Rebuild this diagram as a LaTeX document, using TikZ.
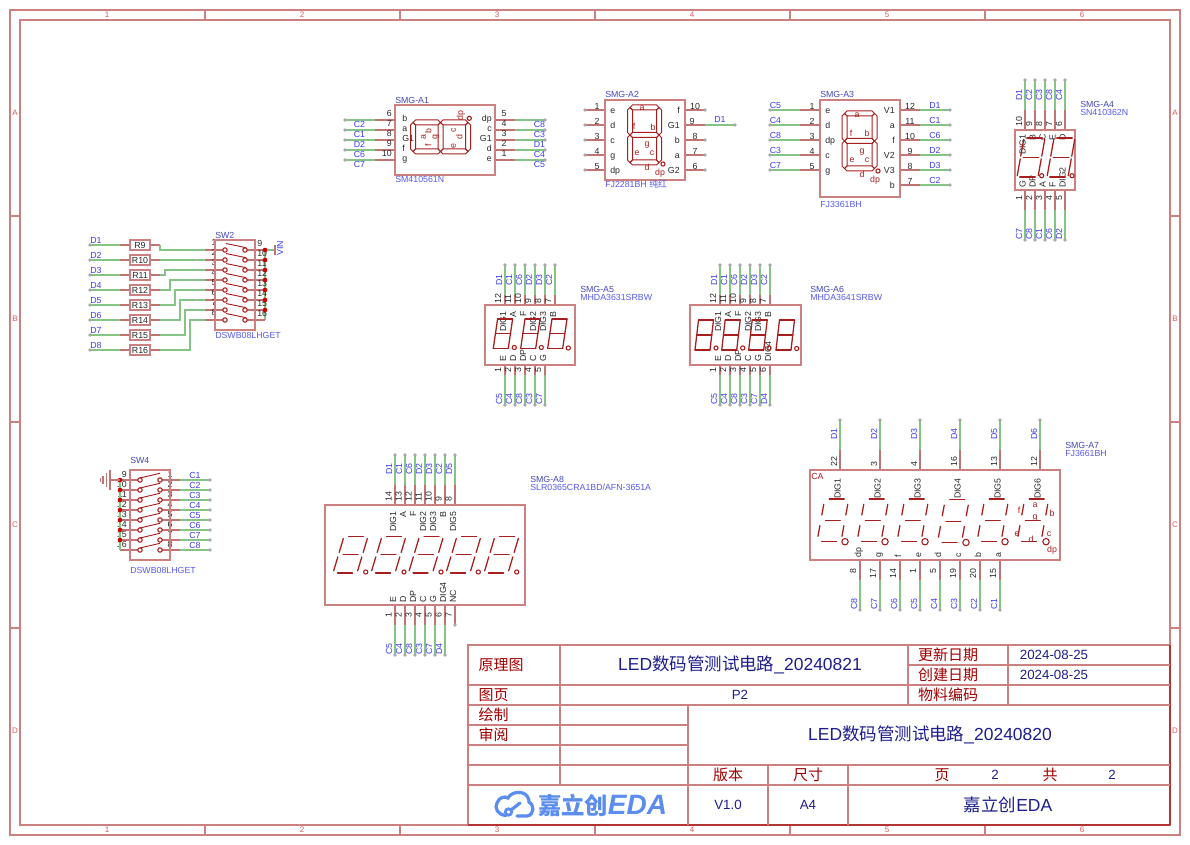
\documentclass[tikz,border=0pt]{standalone}
\usepackage{fontspec}
\setmainfont{Liberation Sans}
\newfontfamily\cjk{Noto Sans CJK SC}
\usetikzlibrary{calc}
\definecolor{boxc}{HTML}{CC8080}
\definecolor{pinc}{HTML}{C07474}
\definecolor{wirec}{HTML}{84C484}
\definecolor{segc}{HTML}{A81E1E}
\definecolor{netc}{HTML}{3C3CEE}
\definecolor{desc}{HTML}{4646B4}
\definecolor{titc}{HTML}{1E1E8C}
\definecolor{redt}{HTML}{A00000}
\definecolor{dotc}{HTML}{A8A8A8}
\definecolor{numc}{HTML}{282828}
\definecolor{logoc}{HTML}{5B8DEF}
\definecolor{jdot}{HTML}{CC0000}
\newcount\nc \newcount\wc
\newcommand\tx[4][]{\global\advance\nc by 1 \node[#2,#1] (n\the\nc) at (#3) {#4};}
% red pin with green wire and dot, from edge to bend to free end
\newcommand\pw[6]{\global\advance\wc by 1
  \coordinate (pa\the\wc) at (#1,#2); \coordinate (pb\the\wc) at (#3,#4); \coordinate (pc\the\wc) at (#5,#6);
  \draw[wirel] (pb\the\wc) -- (pc\the\wc);
  \draw[pinl] (pa\the\wc) -- (pb\the\wc);
  \fill[dotc] (pc\the\wc) circle (1.8);}
% red pin with dot only
\newcommand\prd[4]{\global\advance\wc by 1
  \coordinate (pa\the\wc) at (#1,#2); \coordinate (pb\the\wc) at (#3,#4);
  \draw[pinl] (pa\the\wc) -- (pb\the\wc);
  \fill[dotc] (pb\the\wc) circle (1.8);}
% outlined seven segment digit
\newcommand\hexh[4]{\draw[segl] (#1,#3) -- ++(#4,-#4) -- ({#2-#4},{#3-#4}) -- (#2,#3) -- ({#2-#4},{#3+#4}) -- ({#1+#4},{#3+#4}) -- cycle;}
\newcommand\hexv[4]{\draw[segl] (#1,#2) -- ++(#4,#4) -- ({#1+#4},{#3-#4}) -- (#1,#3) -- ({#1-#4},{#3-#4}) -- ({#1-#4},{#2+#4}) -- cycle;}
\newcommand\sevenseg[6]{\begin{scope}[shift={(#1,#2)},rotate=#6]
  \hexh{-#3}{#3}{-#4}{#5}\hexh{-#3}{#3}{0}{#5}\hexh{-#3}{#3}{#4}{#5}
  \hexv{-#3}{-#4}{0}{#5}\hexv{#3}{-#4}{0}{#5}\hexv{-#3}{0}{#4}{#5}\hexv{#3}{0}{#4}{#5}
\end{scope}}
% stick digit: x0,ybot,w,h,slant,gap horizontal,gap vertical
\newcommand\lseg[3]{\pgfmathsetmacro\gq{1-#3}\draw[segt] ($(#1)!#3!(#2)$) -- ($(#1)!\gq!(#2)$);}
\newcommand\lseven[7]{%
  \coordinate (BL) at (#1,#2); \coordinate (BR) at ({#1+#3},#2);
  \coordinate (ML) at ({#1+#5/2},{#2-#4/2}); \coordinate (MR) at ({#1+#3+#5/2},{#2-#4/2});
  \coordinate (TL) at ({#1+#5},{#2-#4}); \coordinate (TR) at ({#1+#3+#5},{#2-#4});
  \lseg{TL}{TR}{#6}\lseg{ML}{MR}{#6}\lseg{BL}{BR}{#6}
  \lseg{TL}{ML}{#7}\lseg{ML}{BL}{#7}\lseg{TR}{MR}{#7}\lseg{MR}{BR}{#7}}
\newcommand\segdot[3]{\draw[segc,line width=0.8pt] (#1,#2) circle (2.1);}
\tikzset{
 wirel/.style={wirec,line width=1.25pt},
 pinl/.style={pinc,line width=1.25pt},
 boxl/.style={boxc,line width=1.3pt},
 framel/.style={boxc,line width=1.25pt},
 segl/.style={segc,line width=0.75pt,line join=miter},
 segt/.style={segc,line width=0.95pt,line cap=round},
 tb/.style={inner sep=0pt,text height=4.7pt,text depth=0pt,font=\fontsize{6.6}{7}\selectfont},
 net/.style={tb,text=netc},
 des/.style={tb,text=desc},
 val/.style={tb,text=netc!85!white},
 num/.style={tb,text=numc},
 nam/.style={tb,text=numc},
 let/.style={tb,text=segc},
 rn/.style={inner sep=0pt,text height=4.3pt,text depth=0pt,font=\fontsize{6}{7}\selectfont,text=boxc!70!red},
 cred/.style={inner sep=0pt,text=redt,font=\cjk\fontsize{11.25}{12}\selectfont},
 tbig/.style={inner sep=0pt,text=titc,font=\fontsize{13.1}{14}\selectfont},
 tmid/.style={inner sep=0pt,text=titc,font=\fontsize{10}{11}\selectfont},
 logot/.style={inner sep=0pt,text=logoc},
}
\begin{document}
\begin{tikzpicture}[x=0.75pt,y=-0.75pt]
\useasboundingbox (0,0) rectangle (1190,845);
\fill[white] (0,0) rectangle (1190,845);
% frame
\draw[framel] (10,10) rectangle (1180,835);
\draw[framel] (20,20) rectangle (1170,825);
\foreach \x in {205,400,595,790,985}{\draw[framel] (\x,10)--(\x,20); \draw[framel] (\x,825)--(\x,835);}
\foreach \y in {216,422,628}{\draw[framel] (10,\y)--(20,\y); \draw[framel] (1170,\y)--(1180,\y);}
\foreach \x/\t in {107/1,302/2,497/3,692/4,887/5,1082/6}{\tx{rn}{\x,15}{\t}\tx{rn}{\x,830}{\t}}
\foreach \y/\t in {113/A,319/B,525/C,731/D}{\tx{rn}{15,\y}{\t}\tx{rn}{1175,\y}{\t}}
% SMG-A1
\foreach \y/\n/\m/\t in {120/6/b/C2,130/7/a/C1,140/8/G1/D2,150/9/f/C6,160/10/g/C7}{
 \pw{395}{\y}{375}{\y}{345}{\y}
 \tx[anchor=east]{num}{392,\y-7}{\n}\tx[anchor=west]{nam}{402,\y-2}{\m}\tx{net}{359.5,\y+4.5}{\t}}
\foreach \y/\n/\m/\t in {120/5/dp/C8,130/4/c/C3,140/3/G1/D1,150/2/d/C4,160/1/e/C5}{
 \pw{495}{\y}{515}{\y}{545}{\y}
 \tx{num}{504,\y-7}{\n}\tx[anchor=east]{nam}{492,\y-2}{\m}\tx{net}{539.5,\y+4.5}{\t}}
\draw[boxl] (395,105) rectangle (495,175);
\sevenseg{440.5}{137}{14.5}{27.5}{2.5}{90}
\foreach \x/\y/\t in {422.7/137.3/a,428.3/130.7/b,434.3/137.3/g,428.3/145.7/f,452.7/130/c,459.3/137.3/d,452.7/145.7/e,460/116/dp}{\tx[rotate=90]{let}{\x,\y}{\t}}
\segdot{469.3}{118.3}{1.7}
\tx[anchor=west]{des}{395,100}{SMG-A1}
\tx[anchor=west]{val}{395,179}{SM410561N}
% SMG-A2
\foreach \y/\n/\m in {110/1/e,125/2/d,140/3/c,155/4/g,170/5/dp}{
 \prd{605}{\y}{585}{\y}
 \tx{num}{597,\y-4}{\n}\tx[anchor=west]{nam}{610,\y}{\m}}
\foreach \y/\n/\m in {110/10/f,140/8/b,155/7/a,170/6/G2}{
 \prd{685}{\y}{705}{\y}
 \tx{num}{695,\y-4}{\n}\tx[anchor=east]{nam}{680,\y}{\m}}
\pw{685}{125}{705}{125}{735}{125}
\tx{num}{692,121}{9}\tx[anchor=east]{nam}{680,125}{G1}\tx{net}{720,119}{D1}
\draw[boxl] (605,100) rectangle (685,180);
\sevenseg{644.5}{135}{14.5}{27.5}{2.5}{0}
\foreach \x/\y/\t in {642/107/a,634/126/f,653/127/b,647/143/g,637/152/e,652/152/c,647/167/d,660/172/dp}{\tx{let}{\x,\y}{\t}}
\segdot{663}{164}{1.7}
\tx[anchor=west]{des}{605,94}{SMG-A2}
\tx[anchor=west]{val}{605,184}{FJ2281BH {\cjk 纯红}}
% SMG-A3
\foreach \y/\n/\m/\t in {110/1/e/C5,125/2/d/C4,140/3/dp/C8,155/4/c/C3,170/5/g/C7}{
 \pw{820}{\y}{800}{\y}{770}{\y}
 \tx{num}{812,\y-4}{\n}\tx[anchor=west]{nam}{825,\y}{\m}\tx{net}{775.5,\y-5}{\t}}
\foreach \y/\n/\m/\t in {110/12/V1/D1,125/11/a/C1,140/10/f/C6,155/9/V2/D2,170/8/V3/D3,185/7/b/C2}{
 \pw{900}{\y}{920}{\y}{950}{\y}
 \tx{num}{910,\y-4}{\n}\tx[anchor=east]{nam}{895,\y}{\m}\tx{net}{935,\y-5}{\t}}
\draw[boxl] (820,100) rectangle (900,197);
\sevenseg{859.5}{141}{15}{27.5}{2.5}{0}
\foreach \x/\y/\t in {857/114/a,851/133/f,867/133/b,862/150/g,852/159/e,867/159/c,862/174/d,875/179/dp}{\tx{let}{\x,\y}{\t}}
\segdot{878}{171}{1.7}
\tx[anchor=west]{des}{820,94}{SMG-A3}
\tx[anchor=west]{val}{820,204}{FJ3361BH}
% SMG-A4
\foreach \x/\n/\m/\t in {1025/10/DIG1/D1,1035/9/B/C2,1045/8/C/C3,1055/7/E/C8,1065/6/D/C4}{
 \pw{\x}{130}{\x}{110}{\x}{80}
 \tx[rotate=90,anchor=west]{num}{\x-6,127}{\n}\tx[rotate=90,anchor=east]{nam}{\x-2.5,134}{\m}\tx[rotate=90]{net}{\x-6,95}{\t}}
\foreach \x/\n/\m/\t in {1025/1/G/C7,1035/2/DP/C8,1045/3/A/C1,1055/4/F/C6,1065/5/DIG2/D2}{
 \pw{\x}{190}{\x}{210}{\x}{240}
 \tx[rotate=90,anchor=east]{num}{\x-6,195}{\n}\tx[rotate=90,anchor=west]{nam}{\x-2.5,188}{\m}\tx[rotate=90]{net}{\x-6,234}{\t}}
\draw[boxl] (1015,130) rectangle (1075,190);
\lseven{1017}{177}{21}{39}{7}{.13}{.07}
\lseven{1047}{177}{21}{39}{7}{.13}{.07}
\segdot{1041.7}{175.7}{1.5}\segdot{1072}{175.7}{1.5}
\tx[anchor=west]{des}{1080,104}{SMG-A4}
\tx[anchor=west]{val}{1080,112}{SN410362N}
% SMG-A5
\foreach \x/\n/\m/\t in {505/12/DIG1/D1,515/11/A/C1,525/10/F/C6,535/9/DIG2/D2,545/8/DIG3/D3,555/7/B/C2}{
 \pw{\x}{305}{\x}{295}{\x}{265}
 \tx[rotate=90,anchor=west]{num}{\x-7,304}{\n}\tx[rotate=90,anchor=east]{nam}{\x-2,311}{\m}\tx[rotate=90]{net}{\x-6,280}{\t}}
\foreach \x/\n/\m/\t in {505/1/E/C5,515/2/D/C4,525/3/DP/C8,535/4/C/C3,545/5/G/C7}{
 \pw{\x}{365}{\x}{375}{\x}{405}
 \tx[rotate=90,anchor=east]{num}{\x-7,367}{\n}\tx[rotate=90,anchor=west]{nam}{\x-2,362}{\m}\tx[rotate=90]{net}{\x-6,399}{\t}}
\draw[boxl] (485,305) rectangle (575,365);
\lseven{493.3}{348.3}{15}{29.3}{4.3}{0}{0}
\lseven{520.7}{348.3}{15}{29.3}{4.3}{0}{0}
\lseven{547.7}{348.3}{15}{29.3}{4.3}{0}{0}
\segdot{514.3}{347.5}{1.7}\segdot{541.3}{347.5}{1.7}\segdot{568.3}{348}{1.7}
\tx[anchor=west]{des}{580,289}{SMG-A5}
\tx[anchor=west]{val}{580,297}{MHDA3631SRBW}
% SMG-A6
\foreach \x/\n/\m/\t in {720/12/DIG1/D1,730/11/A/C1,740/10/F/C6,750/9/DIG2/D2,760/8/DIG3/D3,770/7/B/C2}{
 \pw{\x}{305}{\x}{295}{\x}{265}
 \tx[rotate=90,anchor=west]{num}{\x-7,304}{\n}\tx[rotate=90,anchor=east]{nam}{\x-2,311}{\m}\tx[rotate=90]{net}{\x-6,280}{\t}}
\foreach \x/\n/\m/\t in {720/1/E/C5,730/2/D/C4,740/3/DP/C8,750/4/C/C3,760/5/G/C7,770/6/DIG4/D4}{
 \pw{\x}{365}{\x}{375}{\x}{405}
 \tx[rotate=90,anchor=east]{num}{\x-7,367}{\n}\tx[rotate=90,anchor=west]{nam}{\x-2,362}{\m}\tx[rotate=90]{net}{\x-6,399}{\t}}
\draw[boxl] (690,305) rectangle (801,365);
\lseven{695}{350}{15}{30}{3.5}{0}{0}
\lseven{721.7}{350}{15}{30}{3.5}{0}{0}
\lseven{748.7}{350}{15}{30}{3.5}{0}{0}
\lseven{776}{350}{15}{30}{3.5}{0}{0}
\segdot{716}{348}{1.7}\segdot{742.7}{348}{1.7}\segdot{769}{348}{1.7}\segdot{796.7}{348.5}{1.7}
\tx[anchor=west]{des}{810,289}{SMG-A6}
\tx[anchor=west]{val}{810,297}{MHDA3641SRBW}
% SMG-A8
\foreach \x/\n/\m/\t in {395/14/DIG1/D1,405/13/A/C1,415/12/F/C6,425/11/DIG2/D2,435/10/DIG3/D3,445/9/B/C2,455/8/DIG5/D5}{
 \pw{\x}{505}{\x}{485}{\x}{455}
 \tx[rotate=90,anchor=west]{num}{\x-6.5,502}{\n}\tx[rotate=90,anchor=east]{nam}{\x-2,511}{\m}\tx[rotate=90]{net}{\x-6,469}{\t}}
\foreach \x/\n/\m/\t in {395/1/E/C5,405/2/D/C4,415/3/DP/C8,425/4/C/C3,435/5/G/C7,445/6/DIG4/D4}{
 \pw{\x}{605}{\x}{625}{\x}{655}
 \tx[rotate=90,anchor=east]{num}{\x-6.5,612.5}{\n}\tx[rotate=90,anchor=west]{nam}{\x-2,603}{\m}\tx[rotate=90]{net}{\x-6,649}{\t}}
\prd{455}{605}{455}{625}
\tx[rotate=90,anchor=east]{num}{448.5,612.5}{7}\tx[rotate=90,anchor=west]{nam}{453,603}{NC}
\draw[boxl] (325,505) rectangle (525,605);
\foreach \x/\d in {333/365.7,371/404,408.5/441,446/478.3,484/516.7}{
 \lseven{\x}{573}{24}{36.7}{11}{.19}{.12}\segdot{\d}{572}{1.7}}
\tx[anchor=west]{des}{530,479}{SMG-A8}
\tx[anchor=west]{val}{530,487}{SLR0365CRA1BD/AFN-3651A}
% SMG-A7
\foreach \x/\n/\m/\t in {840/22/DIG1/D1,880/3/DIG2/D2,920/4/DIG3/D3,960/16/DIG4/D4,1000/13/DIG5/D5,1040/12/DIG6/D6}{
 \pw{\x}{470}{\x}{450}{\x}{420}
 \tx[rotate=90,anchor=west]{num}{\x-6,467}{\n}\tx[rotate=90,anchor=east]{nam}{\x-2.5,478}{\m}\tx[rotate=90]{net}{\x-6,434}{\t}}
\foreach \x/\n/\m/\t in {860/8/dp/C8,880/17/g/C7,900/14/f/C6,920/1/e/C5,940/5/d/C4,960/19/c/C3,980/20/b/C2,1000/15/a/C1}{
 \pw{\x}{560}{\x}{580}{\x}{610}
 \tx[rotate=90,anchor=east]{num}{\x-7,568}{\n}\tx[rotate=90,anchor=west]{nam}{\x-2,558}{\m}\tx[rotate=90]{net}{\x-6,604}{\t}}
\draw[boxl] (810,470) rectangle (1060,560);
\foreach \x/\d/\b in {817/845/541.7,857/885/541.7,897/925/541.7,937.5/966/542.5,977/1005/541.7,1017/1046/541.7}{
 \lseven{\x}{\b}{24}{42.7}{7.7}{.19}{.25}\draw[segc,line width=0.8pt] (\d,\b) circle (3.2);}
\foreach \x/\y/\t in {1035/504/a,1035/516/g,1019/510/f,1052/513/b,1017/533/e,1049/533/c,1031/539/d,1052/549/dp}{\tx{let}{\x,\y}{\t}}
\tx[anchor=west]{let}{811,476}{CA}
\tx[anchor=west]{des}{1065,445}{SMG-A7}
\tx[anchor=west]{val}{1065,453}{FJ3661BH}
% resistors
\foreach \y/\n/\t in {245/R9/D1,260/R10/D2,275/R11/D3,290/R12/D4,305/R13/D5,320/R14/D6,335/R15/D7,350/R16/D8}{
 \pw{130}{\y}{120}{\y}{90}{\y}
 \draw[pinl] (150,\y)--(160,\y);
 \draw[boxl] (130,\y-5) rectangle (150,\y+5);
 \tx{nam}{140,\y}{\n}
 \tx[anchor=west]{net}{90,\y-5}{\t}}
% SW2
\foreach \y/\xb/\ry in {250/160/245,260/160/260,270/165/275,280/170/290,290/175/305,300/180/320,310/185/335,320/190/350}{
 \draw[wirel] (160,\ry)--(\xb,\ry)--(\xb,\y)--(205,\y);}
\draw[wirel] (265,250)--(265,320);
\draw[wirel] (265,250)--(275,250);
\draw[pinl] (275,245)--(275,255);
\tx[rotate=90]{net}{280,248}{VIN}
\foreach \y/\l/\r in {250/1/9,260/2/10,270/3/11,280/4/12,290/5/13,300/6/14,310/7/15,320/8/16}{
 \draw[pinl] (205,\y)--(223,\y);
 \draw[pinl] (247,\y)--(265,\y);
 \draw[segc,line width=0.8pt] (225,\y) circle (2.2);
 \draw[segc,line width=0.8pt] (245,\y) circle (2.2);
 \draw[segc,line width=0.7pt] (226,\y-6.5)--(246,\y-2.3);
 \tx{num}{214,\y-8}{\l}
 \tx[anchor=west]{num}{257,\y-7}{\r}}
\foreach \y in {250,260,...,310}{\fill[jdot] (265,\y) circle (2.3);}
\draw[boxl] (215,240) rectangle (255,330);
\tx[anchor=west]{des}{215,235}{SW2}
\tx[anchor=west]{val}{215,335}{DSWB08LHGET}
% SW4
\foreach \y/\l/\r/\t in {480/9/1/C1,490/10/2/C2,500/11/3/C3,510/12/4/C4,520/13/5/C5,530/14/6/C6,540/15/7/C7,550/16/8/C8}{
 \tx[anchor=east]{num}{127,\y-6}{\l}
 \pw{170}{\y}{180}{\y}{210}{\y}
 \draw[pinl] (120,\y)--(138,\y);
 \draw[pinl] (162,\y)--(170,\y);
 \draw[segc,line width=0.8pt] (140,\y) circle (2.2);
 \draw[segc,line width=0.8pt] (160,\y) circle (2.2);
 \draw[segc,line width=0.7pt] (140,\y-2)--(160,\y-6.7);
 \tx{num}{170,\y-6}{\r}
 \tx{net}{195,\y-5}{\t}}
\draw[wirel] (120,480)--(120,550);
\foreach \y in {480,490,...,540}{\fill[jdot] (120,\y) circle (2.3);}
\draw[pinl] (120,480)--(110,480);
\draw[pinl] (110,469.5)--(110,489.5);
\draw[pinl] (106.5,473)--(106.5,486.5);
\draw[pinl] (103,476)--(103,483.5);
\draw[pinl] (100.5,478)--(100.5,481.5);
\draw[boxl] (130,470) rectangle (170,560);
\tx[anchor=west]{des}{130,460}{SW4}
\tx[anchor=west]{val}{130,570}{DSWB08LHGET}
% title block
\draw[framel] (468,645) rectangle (1170,825);
\draw[segc!90!white,line width=1.2pt] (468,825)--(1170,825) (1170,645)--(1170,825);
\foreach \y in {685,705,765,785}{\draw[framel] (468,\y)--(1170,\y);}
\foreach \y in {725,745}{\draw[framel] (468,\y)--(688,\y);}
\draw[framel] (908,665)--(1170,665);
\draw[framel] (560,645)--(560,785);
\draw[framel] (688,705)--(688,825);
\draw[framel] (768,765)--(768,825);
\draw[framel] (848,765)--(848,825);
\draw[framel] (908,645)--(908,705);
\draw[framel] (1008,645)--(1008,705);
\tx{cred}{501,665}{原理图}
\tx{cred}{493.5,695}{图页}
\tx{cred}{493.5,715}{绘制}
\tx{cred}{493.5,735}{审阅}
\tx{cred}{948,655}{更新日期}
\tx{cred}{948,675}{创建日期}
\tx{cred}{948,695}{物料编码}
\tx{cred}{728,775}{版本}
\tx{cred}{808,775}{尺寸}
\tx{cred}{942,775}{页}
\tx{cred}{1050,775}{共}
\tx{tbig}{740,665}{LED{\cjk 数码管测试电路}\_20240821}
\tx{tbig}{930,735}{LED{\cjk 数码管测试电路}\_20240820}
\tx{tbig}{1008,805}{{\cjk 嘉立创}EDA}
\tx{tmid}{740,695}{P2}
\tx{tmid}{1054,655}{2024-08-25}
\tx{tmid}{1054,675}{2024-08-25}
\tx{tmid}{995,775}{2}
\tx{tmid}{1112,775}{2}
\tx{tmid}{728,805}{V1.0}
\tx{tmid}{808,805}{A4}
% logo
\draw[logoc,line width=2.4pt,line cap=round] (506,815.5) .. controls (498,815) and (494,808) .. (497,803) .. controls (499,797) and (505,796) .. (508,798) .. controls (511,792) and (522,790) .. (527,796) .. controls (529,799) and (529,801) .. (529,802) .. controls (534,804) and (535,815) .. (527,816) -- (517,816);
\draw[logoc,line width=2.1pt] (508.5,812) circle (3.2);
\draw[logoc,line width=2.4pt,line cap=round] (511,810) -- (520,803);
\tx[font=\cjk\bfseries\fontsize{17.5}{18}\selectfont]{logot}{573,805}{嘉立创}
\tx[font=\bfseries\itshape\fontsize{21}{22}\selectfont]{logot}{637.5,805}{EDA}
\end{tikzpicture}
\end{document}
